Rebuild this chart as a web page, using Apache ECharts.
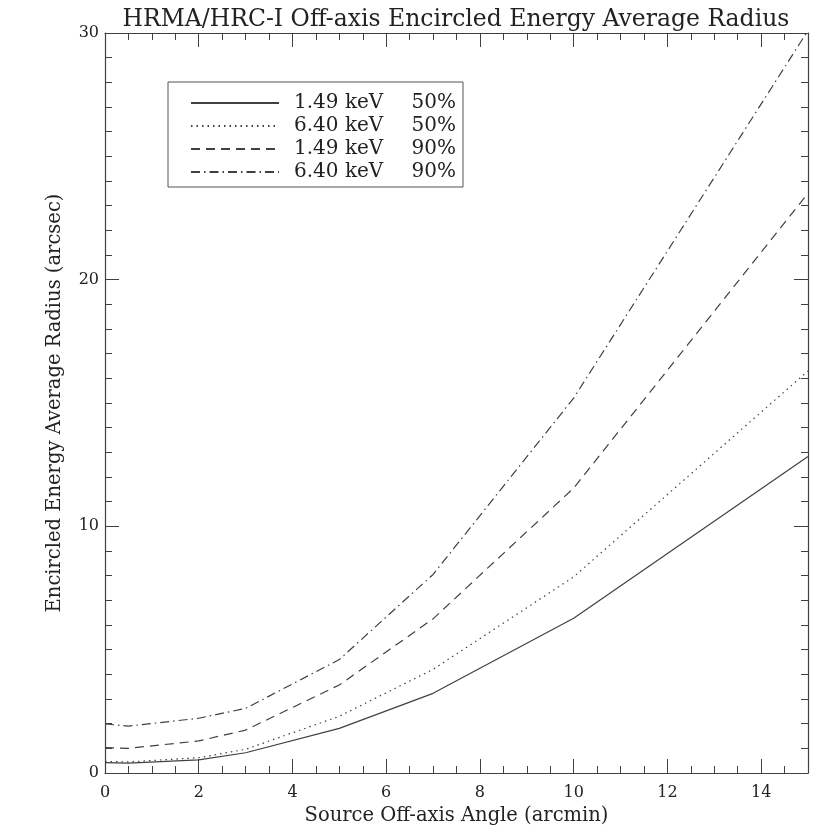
<!DOCTYPE html>
<html>
<head>
<meta charset="utf-8">
<script src="https://cdn.jsdelivr.net/npm/echarts@6/dist/echarts.min.js"></script>
<style>
  html, body { margin: 0; padding: 0; background: #fff; }
  #main { width: 840px; height: 840px; }
</style>
</head>
<body>
<div id="main"></div>
<script>
// off-axis angle (arcmin)
var angles = [0, 0.5, 2, 3, 5, 7, 10, 15];
// encircled energy average radius (arcsec)
var ee149_50 = [0.42, 0.40, 0.53, 0.82, 1.81, 3.23, 6.27, 12.83];
var ee640_50 = [0.47, 0.45, 0.62, 0.96, 2.30, 4.20, 7.95, 16.30];
var ee149_90 = [1.03, 1.00, 1.30, 1.74, 3.57, 6.25, 11.55, 23.50];
var ee640_90 = [1.99, 1.90, 2.22, 2.62, 4.60, 8.05, 15.20, 30.10];

var seriesNames = ['1.49 keV 50%', '6.40 keV 50%', '1.49 keV 90%', '6.40 keV 90%'];
var seriesData = [ee149_50, ee640_50, ee149_90, ee640_90];
var lineTypes = ['solid', [1.5, 4], [9, 6], [9, 4, 1.5, 4]];

var ink = '#404040';
var serif = '"DejaVu Serif", "Liberation Serif", serif';

function pairs(xs, ys) {
  var out = [];
  for (var i = 0; i < xs.length; i++) out.push([xs[i], ys[i]]);
  return out;
}

var series = [];
for (let i = 0; i < seriesNames.length; i++) {
  series.push({
    name: seriesNames[i],
    type: 'line',
    xAxisIndex: 0,
    yAxisIndex: 0,
    symbol: 'none',
    clip: true,
    data: pairs(angles, seriesData[i]),
    lineStyle: { color: ink, width: 1.2, type: lineTypes[i] },
    itemStyle: { color: ink }
  });
}

// major ticks on grid 0, minor ticks on grid 1 (same place)
function xAx(grid, pos, interval, len, labels) {
  return {
    type: 'value', gridIndex: grid, position: pos, min: 0, max: 15, interval: interval,
    axisLine: { show: grid === 0, onZero: false, lineStyle: { color: ink, width: 1.2 } },
    axisTick: { show: true, inside: true, length: len, lineStyle: { color: ink } },
    axisLabel: labels ? {
      show: true, color: '#222', fontFamily: serif, fontSize: 16, margin: 12,
      showMaxLabel: false
    } : { show: false },
    splitLine: { show: false }
  };
}
function yAx(grid, pos, interval, len, labels) {
  return {
    type: 'value', gridIndex: grid, position: pos, min: 0, max: 30, interval: interval,
    axisLine: { show: grid === 0, onZero: false, lineStyle: { color: ink, width: 1.2 } },
    axisTick: { show: true, inside: true, length: len, lineStyle: { color: ink } },
    axisLabel: labels ? {
      show: true, color: '#222', fontFamily: serif, fontSize: 16, margin: 6
    } : { show: false },
    splitLine: { show: false }
  };
}

var xAxes = [
  xAx(0, 'bottom', 2, 14, true),
  xAx(0, 'top', 2, 14, false),
  xAx(1, 'bottom', 0.5, 7, false),
  xAx(1, 'top', 0.5, 7, false)
];
xAxes[0].name = 'Source Off-axis Angle (arcmin)';
xAxes[0].nameLocation = 'middle';
xAxes[0].nameGap = 31;
xAxes[0].nameTextStyle = { color: '#222', fontFamily: serif, fontSize: 19.5 };

var yAxes = [
  yAx(0, 'left', 10, 14, true),
  yAx(0, 'right', 10, 14, false),
  yAx(1, 'left', 1, 7, false),
  yAx(1, 'right', 1, 7, false)
];
yAxes[0].name = 'Encircled Energy Average Radius (arcsec)';
yAxes[0].nameLocation = 'middle';
yAxes[0].nameGap = 40;
yAxes[0].nameTextStyle = { color: '#222', fontFamily: serif, fontSize: 19.5 };

var option = {
  backgroundColor: '#fff',
  animation: false,
  title: {
    text: 'HRMA/HRC-I Off-axis Encircled Energy Average Radius',
    left: 451, top: 3, textAlign: 'center',
    textStyle: { color: '#222', fontFamily: serif, fontSize: 23.5, fontWeight: 'normal' }
  },
  grid: [
    { left: 105, right: 32, top: 33, bottom: 67 },
    { left: 105, right: 32, top: 33, bottom: 67 }
  ],
  legend: {
    orient: 'vertical',
    left: 168, top: 82,
    data: seriesNames,
    itemWidth: 88, itemHeight: 16, itemGap: 3,
    padding: [11, 7, 5, 22],
    borderColor: '#555', borderWidth: 1,
    selectedMode: false,
    itemStyle: { opacity: 0 },
    formatter: function (name) {
      var p = name.split(' ');
      return '{g| }{a|' + p[0] + ' ' + p[1] + '}{b|' + p[2] + '}';
    },
    textStyle: {
      color: '#222', fontFamily: serif, fontSize: 20, lineHeight: 19,
      rich: {
        g: { width: 10, lineHeight: 19 },
        a: { width: 110, fontFamily: serif, fontSize: 20, lineHeight: 19, color: '#222' },
        b: { width: 52, align: 'right', fontFamily: serif, fontSize: 20, lineHeight: 19, color: '#222' }
      }
    }
  },
  xAxis: xAxes,
  yAxis: yAxes,
  series: series
};

var myChart = echarts.init(document.getElementById('main'));
myChart.setOption(option);
</script>
</body>
</html>
